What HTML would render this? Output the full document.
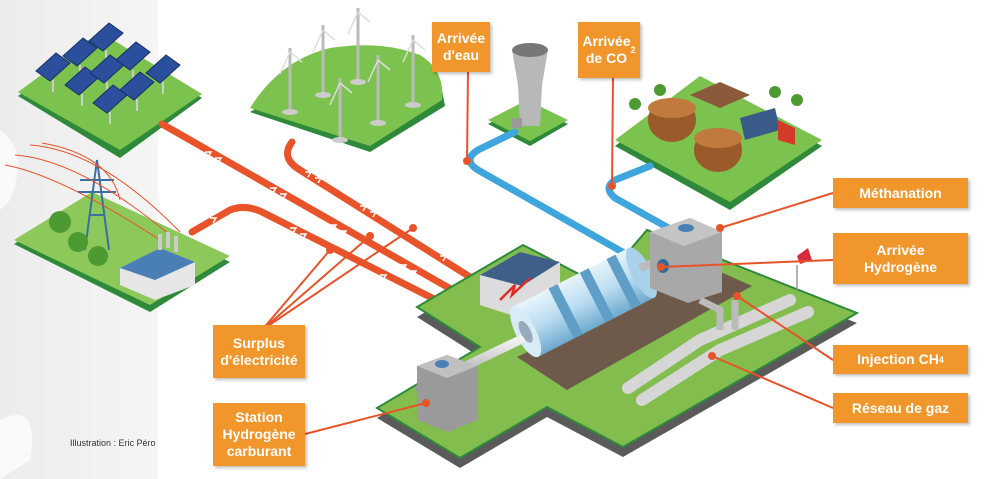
<!DOCTYPE html>
<html><head><meta charset="utf-8"><style>
body{margin:0;width:1000px;height:479px;overflow:hidden;background:#fff;font-family:"Liberation Sans",sans-serif}
.lb{position:absolute;background:#f0962a;color:#fff;font-weight:bold;font-size:14px;line-height:17px;text-align:center;display:flex;align-items:center;justify-content:center;box-shadow:2px 2px 3px rgba(0,0,0,.25)}
</style></head><body>
<svg width="1000" height="479" style="position:absolute;left:0;top:0">
<defs>
<linearGradient id="bg" x1="0" x2="1"><stop offset="0" stop-color="#ececec"/><stop offset="1" stop-color="#f5f5f5"/></linearGradient>
<linearGradient id="cyl" x1="0" y1="0" x2="0" y2="1"><stop offset="0" stop-color="#e8f4fb"/><stop offset=".5" stop-color="#b9dcf0"/><stop offset="1" stop-color="#6fa9cf"/></linearGradient>
<linearGradient id="pipe" x1="0" y1="0" x2="0" y2="1"><stop offset="0" stop-color="#f2f2f2"/><stop offset="1" stop-color="#9a9a9a"/></linearGradient>
<polygon id="pn" points="-17,3 3,-15 17,-5 -3,13" fill="#2a4f9c" stroke="#1a2f66"/>
</defs>
<rect x="0" y="0" width="158" height="479" fill="url(#bg)"/>
<path d="M0 130 Q30 150 10 200 L0 210Z M0 420 Q40 400 30 460 L0 479Z" fill="#fff" opacity=".7"/>

<!-- solar platform -->
<polygon points="18,96 100,36 202,98 120,158" fill="#2e8a3a"/>
<polygon points="18,92 100,32 202,94 120,150" fill="#7cc24e"/>
<g stroke="#ccc" stroke-width="2"><path d="M53 80v12 M82 94v12 M110 112v12 M107 82v12 M133 70v12 M163 82v12 M137 99v12 M80 65v12 M106 50v12"/></g>
<use href="#pn" x="53" y="68"/><use href="#pn" x="80" y="53"/><use href="#pn" x="106" y="38"/>
<use href="#pn" x="82" y="82"/><use href="#pn" x="107" y="70"/><use href="#pn" x="133" y="57"/><use href="#pn" x="163" y="70"/>
<use href="#pn" x="110" y="100"/><use href="#pn" x="137" y="87"/>

<!-- power plant platform -->
<polygon points="14,244 92,196 230,262 150,312" fill="#2e8a3a"/>
<polygon points="14,240 92,192 230,256 150,305" fill="#8cc85a"/>
<g stroke="#3a6fa0" stroke-width="2" fill="none"><path d="M85 250 L97 160 L109 250 M90 215 L104 215 M78 192 L116 192 M80 180 L114 180"/></g>
<g stroke="#e8532a" stroke-width="1" fill="none"><path d="M5 165 Q60 175 160 240 M15 155 Q80 160 170 235 M30 145 Q100 150 180 232 M42 143 Q110 155 120 200"/></g>
<g fill="#4d9a32"><circle cx="60" cy="222" r="11"/><circle cx="78" cy="242" r="10"/><circle cx="98" cy="256" r="10"/></g>
<polygon points="120,268 160,248 195,262 195,285 155,300 120,285" fill="#e6e6e6"/>
<polygon points="120,268 160,248 195,262 155,280" fill="#4a7fb5"/>
<rect x="158" y="234" width="4" height="16" fill="#ccc"/><rect x="166" y="232" width="4" height="16" fill="#ccc"/><rect x="174" y="236" width="4" height="16" fill="#ccc"/>

<!-- wind platform -->
<polygon points="250,112 325,68 440,80 445,106 370,152" fill="#2e8a3a"/>
<path d="M250,108 Q280,60 330,48 Q380,40 420,55 Q445,70 442,100 L370,146Z" fill="#7cc24e"/>
<g stroke="#bbb" stroke-width="3">
<path d="M290 112V48 M323 95V25 M358 82V8 M413 105V35 M378 123V55 M340 140V78"/>
</g>
<g stroke="#ddd" stroke-width="1.5"><path d="M290 52l-10 22 M290 52l12 10 M323 30l-10 22 M323 30l12 10 M358 12l-10 22 M358 12l12 10 M413 40l-10 22 M413 40l12 10 M378 60l-10 22 M378 60l12 10 M340 83l-10 22 M340 83l12 10"/></g>
<g fill="#ccc"><ellipse cx="290" cy="112" rx="8" ry="3"/><ellipse cx="323" cy="95" rx="8" ry="3"/><ellipse cx="358" cy="82" rx="8" ry="3"/><ellipse cx="413" cy="105" rx="8" ry="3"/><ellipse cx="378" cy="123" rx="8" ry="3"/><ellipse cx="340" cy="140" rx="8" ry="3"/></g>

<!-- water platform -->
<polygon points="488,124 527,104 568,124 530,146" fill="#2e8a3a"/>
<polygon points="488,120 527,100 568,120 530,141" fill="#7cc24e"/>
<path d="M512 50 L548 50 L542 85 L540 126 L520 126 L518 85Z" fill="#b8b8b8"/>
<ellipse cx="530" cy="50" rx="18" ry="7" fill="#777"/>
<rect x="512" y="118" width="10" height="10" fill="#999"/>

<!-- biogas platform -->
<polygon points="615,146 700,82 822,146 730,210" fill="#2e8a3a"/>
<polygon points="615,140 700,76 822,140 730,202" fill="#7cc24e"/>
<ellipse cx="672" cy="120" rx="24" ry="22" fill="#9b5a2a"/><ellipse cx="672" cy="108" rx="24" ry="10" fill="#c07a3c"/>
<ellipse cx="718" cy="150" rx="24" ry="22" fill="#9b5a2a"/><ellipse cx="718" cy="138" rx="24" ry="10" fill="#c07a3c"/>
<polygon points="740,118 775,108 780,130 745,140" fill="#3a5a8a"/>
<polygon points="778,120 795,128 795,145 778,140" fill="#d23a2a"/>
<polygon points="690,95 720,82 750,95 720,108" fill="#8a5a3a"/>
<g fill="#4d9a32"><circle cx="635" cy="104" r="6"/><circle cx="660" cy="90" r="6"/><circle cx="775" cy="92" r="6"/><circle cx="797" cy="100" r="6"/></g>

<!-- red power lines -->
<g stroke="#e8532a" stroke-width="7" fill="none" stroke-linecap="round">
<path d="M162 124 L470 300"/>
<path d="M292 142 Q280 158 300 170 L478 282"/>
<path d="M192 232 L230 210 Q245 204 262 212 L440 302"/>
</g>
<g stroke="#fff" stroke-width="1.5" fill="none">
<path d="M205 152l6 0 -3 5 M215 158l6 0 -3 5 M270 188l6 0-3 5 M280 194l6 0-3 5 M330 225l6 0-3 5 M340 231l6 0-3 5 M400 265l6 0-3 5 M410 271l6 0-3 5"/>
<path d="M305 172l6 0-3 5 M315 178l6 0-3 5 M360 206l6 0-3 5 M370 212l6 0-3 5 M440 256l6 0-3 5"/>
<path d="M210 218l6 0-3 5 M290 228l6 0-3 5 M300 234l6 0-3 5 M380 275l6 0-3 5"/>
</g>
<!-- blue water/co2 -->
<g stroke="#3ea6dc" stroke-width="7" fill="none" stroke-linecap="round">
<path d="M515 132 L478 150 Q462 160 478 170 L640 262"/>
<path d="M650 166 L615 180 Q603 188 615 198 L690 240"/>
</g>
<g fill="#e8532a"><circle cx="467" cy="161" r="4"/><circle cx="612" cy="186" r="4"/></g>
<path d="M467 161 L468 72 M612 186 L613 78" stroke="#e8532a" stroke-width="2"/>

<!-- main platform -->
<g transform="translate(0,10)"><polygon points="417,307 523,245 600,285 647,230 857,313 623,447 547,407 460,458 377,408 480,347" fill="#5a5a5a"/></g>
<polygon points="417,307 523,245 600,285 647,230 857,313 623,447 547,407 460,458 377,408 480,347" fill="#82bd4e" stroke="#2e8a3a" stroke-width="2"/>
<polygon points="517,357 567,390 752,286 705,265" fill="#6e5a4a"/>
<!-- building -->
<polygon points="480,275 520,252 560,262 560,300 520,318 480,305" fill="#dcdcdc"/>
<polygon points="480,275 520,252 560,262 522,286" fill="#3e5f88"/>
<path d="M500 300 L515 285 L512 295 L530 278" stroke="#e02a2a" stroke-width="2.5" fill="none"/>
<!-- cylinder -->
<g transform="translate(588,300) rotate(-27)">
<rect x="-70" y="-28" width="130" height="56" fill="url(#cyl)"/>
<rect x="-30" y="-28" width="10" height="56" fill="#5f9fc7"/><rect x="5" y="-28" width="10" height="56" fill="#5f9fc7"/><rect x="35" y="-28" width="10" height="56" fill="#5f9fc7"/>
<ellipse cx="-70" cy="0" rx="10" ry="28" fill="#d8ecf7"/><ellipse cx="-70" cy="0" rx="5" ry="12" fill="#9ab"/>
<ellipse cx="60" cy="0" rx="10" ry="28" fill="#a9d1ea"/>
</g>
<!-- pipes -->
<path d="M420 388 L520 340" stroke="url(#pipe)" stroke-width="9" stroke-linecap="round"/>
<path d="M640 268 L665 258" stroke="#bbb" stroke-width="8"/>
<path d="M628 388 L700 340 L790 300" stroke="#d6d6d6" stroke-width="12" stroke-linecap="round" fill="none"/>
<path d="M642 400 L720 350 L808 312" stroke="#d6d6d6" stroke-width="12" stroke-linecap="round" fill="none"/>
<path d="M700 300 L720 310 L720 330 M735 300 L735 330" stroke="#bbb" stroke-width="7" fill="none"/>
<!-- methanation box -->
<polygon points="650,232 690,218 722,232 722,292 688,303 650,288" fill="#a8a8a8"/>
<polygon points="650,232 690,218 722,232 684,246" fill="#c4c4c4"/>
<ellipse cx="686" cy="228" rx="8" ry="4" fill="#4a7fb5"/>
<ellipse cx="663" cy="266" rx="6" ry="7" fill="#2d6c9a"/>
<!-- station box -->
<polygon points="417,366 447,355 477,366 477,420 448,432 417,420" fill="#9a9a9a"/>
<polygon points="417,366 447,355 477,366 447,378" fill="#c0c0c0"/>
<ellipse cx="442" cy="364" rx="7" ry="4" fill="#4a7fb5"/>
<!-- flag -->
<path d="M797 265 V290" stroke="#999" stroke-width="1.5"/><polygon points="797,256 808,248 812,260 800,264" fill="#d72a3a"/>

<!-- connectors -->
<g stroke="#e8532a" stroke-width="2" fill="none">
<path d="M262 330 L330 250 M262 330 L370 236 M262 330 L413 228"/>
<path d="M720 228 L833 193"/><path d="M661 267 L833 260"/><path d="M737 296 L833 360"/><path d="M712 356 L833 408"/><path d="M426 403 L305 434"/>
</g>
<g fill="#e8532a"><circle cx="330" cy="250" r="4"/><circle cx="370" cy="236" r="4"/><circle cx="413" cy="228" r="4"/><circle cx="720" cy="228" r="4"/><circle cx="661" cy="267" r="4"/><circle cx="737" cy="296" r="4"/><circle cx="712" cy="356" r="4"/><circle cx="426" cy="403" r="4"/></g>
</svg>

<div class="lb" style="left:432px;top:22px;width:58px;height:50px">Arrivée<br>d'eau</div>
<div class="lb" style="left:578px;top:22px;width:62px;height:56px">Arrivée<br>de CO<sub style="font-size:9px;line-height:0">2</sub></div>
<div class="lb" style="left:833px;top:178px;width:135px;height:30px">Méthanation</div>
<div class="lb" style="left:833px;top:233px;width:135px;height:51px">Arrivée<br>Hydrogène</div>
<div class="lb" style="left:833px;top:345px;width:135px;height:29px">Injection CH<sub style="font-size:9px;line-height:0">4</sub></div>
<div class="lb" style="left:833px;top:393px;width:135px;height:30px">Réseau de gaz</div>
<div class="lb" style="left:213px;top:325px;width:92px;height:53px">Surplus<br>d'électricité</div>
<div class="lb" style="left:213px;top:403px;width:92px;height:63px">Station<br>Hydrogène<br>carburant</div>
<div style="position:absolute;left:70px;top:438px;font-size:9px;color:#333">Illustration : Eric Péro</div>
</body></html>
